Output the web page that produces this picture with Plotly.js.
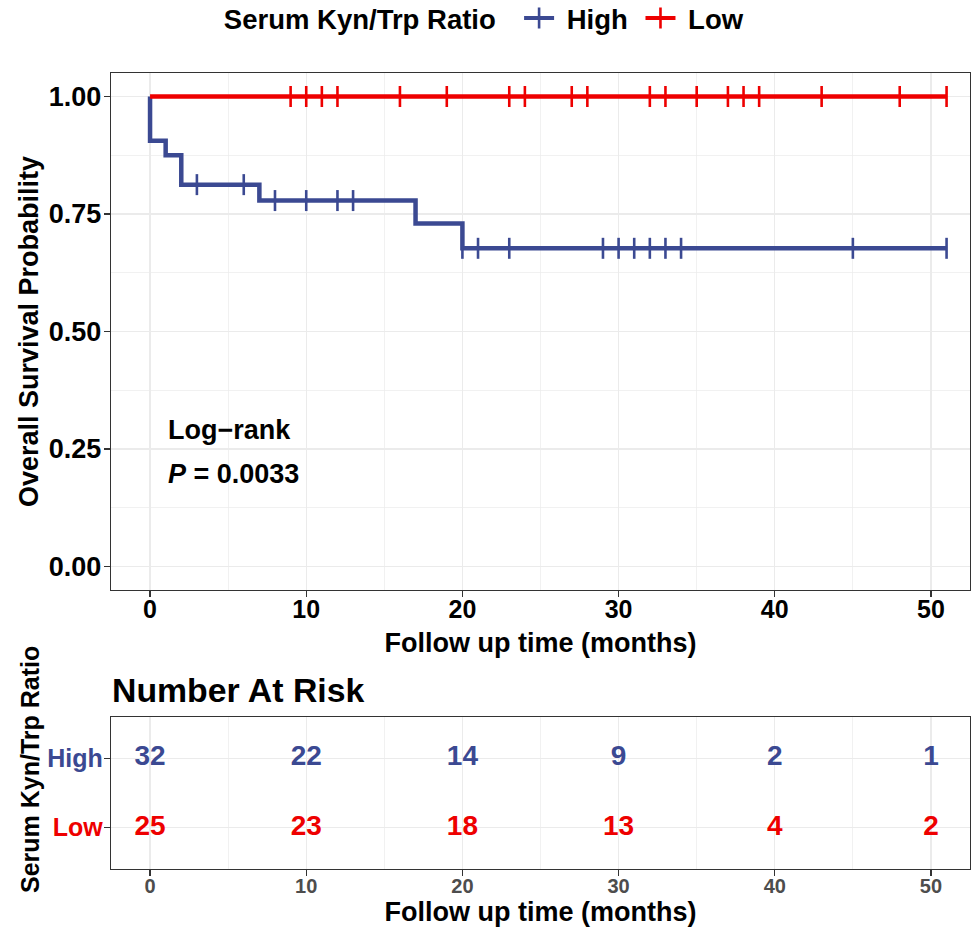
<!DOCTYPE html>
<html>
<head>
<meta charset="utf-8">
<script src="https://cdn.plot.ly/plotly-3.0.1.min.js"></script>
<style>html,body{margin:0;padding:0;background:#fff;}#chart{width:971px;height:929px;}</style>
</head>
<body>
<div id="chart"></div>
<script>
// ---- data ----
const groups = ["High", "Low"];
const groupColors = ["#3B4992", "#EE0000"];

// Kaplan-Meier step curve, High group
const highTimes = [0, 0, 1, 2, 7, 17, 20, 51];
const highSurv  = [1.0, 0.906, 0.875, 0.8125, 0.7786, 0.730, 0.677, 0.677];
// censor marks, High group
const highCensorTimes = [3, 6, 8, 10, 12, 13, 20, 21, 23, 29, 30, 31, 32, 33, 34, 45, 51];
const highCensorSurv  = [0.8125, 0.8125, 0.7786, 0.7786, 0.7786, 0.7786, 0.677, 0.677, 0.677, 0.677, 0.677, 0.677, 0.677, 0.677, 0.677, 0.677, 0.677];

// Low group
const lowTimes = [0, 51];
const lowSurv  = [1.0, 1.0];
const lowCensorTimes = [9, 10, 11, 12, 16, 19, 23, 24, 27, 28, 32, 33, 35, 37, 38, 39, 43, 48, 51];
const lowCensorSurv  = [1, 1, 1, 1, 1, 1, 1, 1, 1, 1, 1, 1, 1, 1, 1, 1, 1, 1, 1];

// number at risk table
const riskTimes = [0, 10, 20, 30, 40, 50];
const riskHigh  = [32, 22, 14, 9, 2, 1];
const riskLow   = [25, 23, 18, 13, 4, 2];

const yTickVals = [0, 0.25, 0.5, 0.75, 1.0];
const yTickText = ["0.00", "0.25", "0.50", "0.75", "1.00"];
const xTickVals = [0, 10, 20, 30, 40, 50];

const FONT = "Liberation Sans, Arial, Helvetica, sans-serif";
const GRID = "#EBEBEB";
const BORDER = "#333333";
const NB = "\u00a0";

const traces = [];
// curves
traces.push({x: highTimes, y: highSurv, type: "scatter", mode: "lines", line: {color: groupColors[0], width: 4.5, shape: "hv"}, showlegend: false, hoverinfo: "skip", xaxis: "x", yaxis: "y"});
traces.push({x: lowTimes, y: lowSurv, type: "scatter", mode: "lines", line: {color: groupColors[1], width: 4.5, shape: "hv"}, showlegend: false, hoverinfo: "skip", xaxis: "x", yaxis: "y"});
// censor marks
traces.push({x: highCensorTimes, y: highCensorSurv, type: "scatter", mode: "markers", marker: {symbol: "line-ns", size: 15, line: {color: groupColors[0], width: 2.6}}, showlegend: false, xaxis: "x", yaxis: "y"});
traces.push({x: lowCensorTimes, y: lowCensorSurv, type: "scatter", mode: "markers", marker: {symbol: "line-ns", size: 15, line: {color: groupColors[1], width: 2.6}}, showlegend: false, xaxis: "x", yaxis: "y"});
// legend entries
const legendNames = [NB + groups[0] + NB, NB + groups[1]];
groups.forEach((g, i) => {
  traces.push({x: [null], y: [null], type: "scatter", mode: "lines+markers", name: legendNames[i],
    line: {color: groupColors[i], width: 4},
    marker: {symbol: "line-ns", size: 15, color: groupColors[i], line: {color: groupColors[i], width: 2.6}},
    xaxis: "x", yaxis: "y"});
});
// risk table
traces.push({x: riskTimes, y: riskTimes.map(() => 1), text: riskHigh.map(String), type: "scatter", mode: "text",
  textfont: {family: FONT, size: 28, weight: "bold", color: groupColors[0]}, textposition: "middle center",
  showlegend: false, hoverinfo: "skip", xaxis: "x2", yaxis: "y2"});
traces.push({x: riskTimes, y: riskTimes.map(() => 0), text: riskLow.map(String), type: "scatter", mode: "text",
  textfont: {family: FONT, size: 28, weight: "bold", color: groupColors[1]}, textposition: "middle center",
  showlegend: false, hoverinfo: "skip", xaxis: "x2", yaxis: "y2"});

const axisCommon = {
  showline: true, mirror: true, linecolor: BORDER, linewidth: 1.3,
  showgrid: true, gridcolor: GRID, gridwidth: 1.3, zeroline: false,
  ticks: "outside", ticklen: 6, tickwidth: 1.3, tickcolor: BORDER,
  automargin: false
};

const layout = {
  width: 971, height: 929,
  paper_bgcolor: "#fff", plot_bgcolor: "#fff",
  font: {family: FONT, color: "#000"},
  margin: {l: 111, r: 1, t: 73, b: 60, autoexpand: false},
  showlegend: true,
  legend: {
    orientation: "h", x: 0.129, xanchor: "left", y: 1.069, yanchor: "middle",
    font: {family: FONT, size: 27.5, weight: "bold", color: "#000"},
    title: {text: "Serum Kyn/Trp Ratio" + NB + NB, side: "left", font: {family: FONT, size: 27.5, weight: "bold", color: "#000"}},
    itemwidth: 30, bgcolor: "rgba(0,0,0,0)"
  },
  xaxis: Object.assign({}, axisCommon, {
    anchor: "y", domain: [0, 1], range: [-2.5, 52.5], tickvals: xTickVals, ticklabelstandoff: -9,
    minor: {dtick: 5, tick0: 0, showgrid: true, gridcolor: GRID, gridwidth: 0.7, ticks: ""},
    tickfont: {family: FONT, size: 25, weight: "bold", color: "#000"},
    title: {text: "Follow up time (months)", font: {family: FONT, size: 27, weight: "bold", color: "#000"}, standoff: 10}
  }),
  yaxis: Object.assign({}, axisCommon, {
    anchor: "x", domain: [0.3505, 1], range: [-0.05, 1.05], tickvals: yTickVals, ticktext: yTickText, ticklabelstandoff: -3,
    minor: {dtick: 0.125, tick0: 0, showgrid: true, gridcolor: GRID, gridwidth: 0.7, ticks: ""},
    tickfont: {family: FONT, size: 27, weight: "bold", color: "#000"},
    title: {text: "Overall Survival Probability", font: {family: FONT, size: 27, weight: "bold", color: "#000"}, standoff: 2}
  }),
  xaxis2: Object.assign({}, axisCommon, {
    anchor: "y2", domain: [0, 1], range: [-2.5, 52.5], tickvals: xTickVals, ticklabelstandoff: -7,
    minor: {dtick: 5, tick0: 0, showgrid: true, gridcolor: GRID, gridwidth: 0.7, ticks: ""},
    tickfont: {family: FONT, size: 20, weight: "bold", color: "#4D4D4D"},
    title: {text: "Follow up time (months)", font: {family: FONT, size: 27, weight: "bold", color: "#000"}, standoff: 2}
  }),
  yaxis2: Object.assign({}, axisCommon, {
    anchor: "x2", domain: [0, 0.191], range: [-0.6, 1.6], tickvals: [1, 0], ticklabelstandoff: -4,
    ticktext: groups.map((g, i) => '<span style="color:' + groupColors[i] + '">' + g + '</span>'),
    tickfont: {family: FONT, size: 25, weight: "bold", color: "#000"}
  }),
  annotations: [
    {text: "Log\u2212rank", x: 1.0, y: 0.2915, xref: "x", yref: "y", xanchor: "left", yanchor: "middle", showarrow: false,
     font: {family: FONT, size: 27, weight: "bold", color: "#000"}},
    {text: "<i>P</i> = 0.0033", x: 1.0, y: 0.1965, xref: "x", yref: "y", xanchor: "left", yanchor: "middle", showarrow: false,
     font: {family: FONT, size: 27, weight: "bold", color: "#000"}},
    {text: "Number At Risk", x: -0.0017, y: 0.2249, xref: "paper", yref: "paper", xanchor: "left", yanchor: "middle", showarrow: false,
     font: {family: FONT, size: 33.8, weight: "bold", color: "#000"}},
    {text: "Serum Kyn/Trp Ratio", x: -0.0943, y: 0.1256, xref: "paper", yref: "paper", xanchor: "center", yanchor: "middle", textangle: -90, showarrow: false,
     font: {family: FONT, size: 25, weight: "bold", color: "#000"}}
  ]
};

Plotly.newPlot("chart", traces, layout, {staticPlot: true, displayModeBar: false});
</script>
</body>
</html>
